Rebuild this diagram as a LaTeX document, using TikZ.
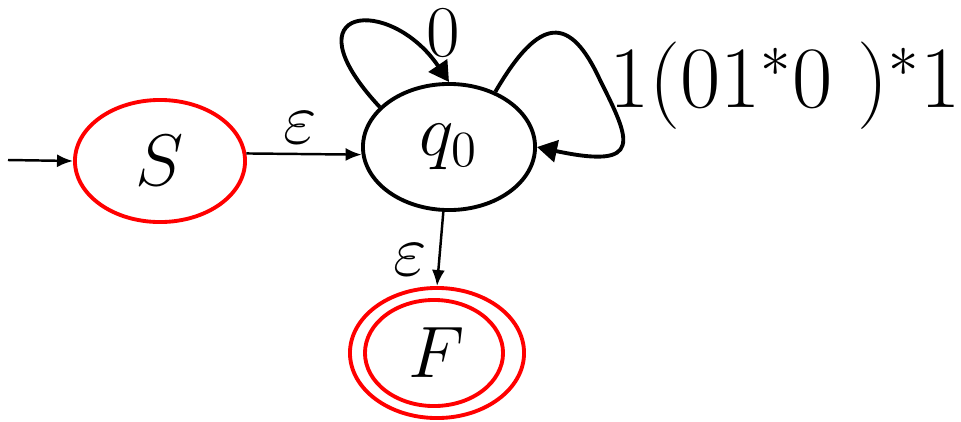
\documentclass[tikz,border=0pt]{standalone}
\usepackage{amssymb,amsmath}
\usetikzlibrary{arrows.meta,shapes.geometric}
\begin{document}
\begin{tikzpicture}[x=0.01cm,y=-0.01cm]
  \tikzstyle{state}=[ellipse,draw,line width=1.1pt,inner sep=0pt,font=\fontsize{22}{26}\selectfont]
  \tikzstyle{edgelabel}=[inner sep=0pt,font=\fontsize{22}{26}\selectfont]
  \tikzstyle{move}=[line width=0.7pt,-{Latex[length=0.16cm,width=0.13cm]}]
  \tikzstyle{loopline}=[line width=1.1pt,-{Triangle[length=0.2cm,width=0.22cm]}]
  \useasboundingbox (0,0) rectangle (961,421);
  \coordinate (in) at (8,160);
  \node[state,red,text=black,minimum width=1.7cm,minimum height=1.22cm] (S) at (160,161) {$S$};
  \node[state,minimum width=1.72cm,minimum height=1.26cm] (q0) at (449,147) {$q_0$};
  \node[state,red,text=black,minimum width=1.74cm,minimum height=1.3cm] (F) at (437,353) {$F$};
  \draw[red,line width=1.1pt] ([xshift=-0.03cm]F.center) ellipse [x radius=0.69cm,y radius=0.53cm];
  \draw[move] (in) -- (S.west);
  \draw[move] (S.5) -- (q0.185);
  \draw[move] (q0.265) -- (F.north);
  \draw[loopline] (q0.150) .. controls (285,5) and (390,-5) .. (q0.north);
  \draw[loopline] (q0.50) .. controls (540,15) and (570,15) .. (600,80)
     .. controls (630,140) and (645,170) .. (q0.east);
  \node[edgelabel] (e1) at (300,128) {$\varepsilon$};
  \node[edgelabel] (e2) at (410,260) {$\varepsilon$};
  \node[edgelabel] (l0) at (443,33) {$0$};
  \node[edgelabel,font=\fontsize{23}{28}\selectfont] (l1) at (785,86) {$1(01^*0\ )^*1$};
\end{tikzpicture}
\end{document}
